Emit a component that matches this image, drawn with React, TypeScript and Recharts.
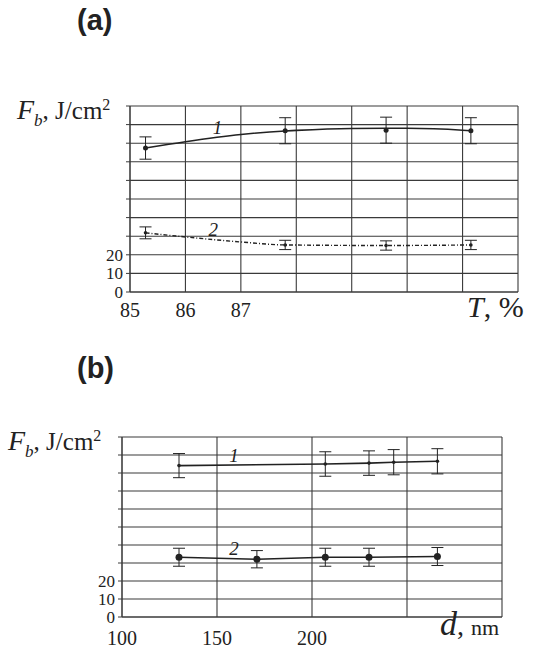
import React from 'react';
import {
  ComposedChart,
  Line,
  Scatter,
  ErrorBar,
  CartesianGrid,
  XAxis,
  YAxis,
  ReferenceDot,
} from 'recharts';

// ---- panel (a): F_b vs transmittance T, %
const aXTicks = [85, 86, 87, 88, 89, 90, 91, 92];
const aXTickLabels = ['85', '86', '87', '', '', '', '', ''];
const aPointT = [85.28, 87.8, 89.62, 91.15];
const aS1 = [77.4, 86.7, 87.0, 86.7];
const aS1Err = [6, 7, 7, 7];
const aS2 = [31.8, 25.3, 25.0, 25.3];
const aS2Err = [3.2, 2.5, 2.5, 2.5];
// fitted curves as drawn
const aCurve1T = [85.28, 86, 87, 87.8, 88, 89, 89.62, 90, 91, 91.15];
const aCurve1 = [77.4, 80.8, 84.7, 86.6, 86.9, 87.9, 88.0, 88.0, 87.0, 86.7];
const aCurve2T = [85.28, 86, 87, 87.8, 89.62, 91.15];
const aCurve2 = [31.8, 29.6, 26.9, 25.3, 25.0, 25.3];

// ---- panel (b): F_b vs thickness d, nm
const bXTicks = [100, 150, 200, 250, 300];
const bXTickLabels = ['100', '150', '200', '', ''];
const bS1D = [130, 207, 230, 243, 266];
const bS1 = [84.1, 85.0, 85.5, 86.0, 86.5];
const bS1Err = [6.7, 6.8, 6.8, 7, 7];
const bS2D = [130, 171, 207, 230, 266];
const bS2 = [33.2, 32.1, 33.2, 33.2, 33.6];
const bS2Err = [5, 4.8, 5, 5, 5];

// shared y axis
const yTicks = [0, 10, 20, 30, 40, 50, 60, 70, 80, 90, 100];
const yTickLabels = ['0', '10', '20', '', '', '', '', '', '', '', ''];

const zip = (xs: number[], ys: number[], errs?: number[]) =>
  xs.map((x, i) => ({ x, y: ys[i], err: errs ? errs[i] : 0 }));

const INK = '#222';
const GRID = '#3a3a3a';
const SERIF = "'Liberation Serif', 'Times New Roman', serif";

const dot = (r: number) => (p: any) =>
  <circle cx={p.cx} cy={p.cy} r={r} fill={INK} />;

const makeTick = (ticks: number[], labels: string[], axis: 'x' | 'y', dy = 15) => (p: any) => {
  const v = p.payload?.value;
  const text = labels[ticks.indexOf(v)] ?? '';
  if (!text) return <g />;
  return axis === 'x' ? (
    <text x={p.x} y={p.y + dy} textAnchor="middle" style={{ fontFamily: SERIF, fontSize: 20 }} fill={INK}>
      {text}
    </text>
  ) : (
    <text x={p.x - 1} y={p.y + 6} textAnchor="end" style={{ fontFamily: SERIF, fontSize: 17 }} fill={INK}>
      {text}
    </text>
  );
};

const curveLabel = (value: string) => ({
  value,
  position: 'center' as const,
  style: { fontFamily: SERIF, fontStyle: 'italic', fontSize: 19, fill: INK },
});

const YTitle = ({ top, left }: { top: number; left: number }) => (
  <div style={{ position: 'absolute', top, left, fontFamily: SERIF, color: INK, whiteSpace: 'nowrap' }}>
    <span style={{ fontStyle: 'italic', fontSize: 28 }}>F</span>
    <span style={{ fontStyle: 'italic', fontSize: 17, position: 'relative', top: 7 }}>b</span>
    <span style={{ fontSize: 25 }}>,&nbsp;J/cm</span>
    <span style={{ fontSize: 16, position: 'relative', top: -9 }}>2</span>
  </div>
);

const PanelLabel = ({ top, text }: { top: number; text: string }) => (
  <div
    style={{
      position: 'absolute',
      top,
      left: 77,
      fontFamily: 'Liberation Sans, Arial, sans-serif',
      fontWeight: 'bold',
      fontSize: 29,
      color: INK,
    }}
  >
    {text}
  </div>
);

export default function App() {
  const a1 = zip(aPointT, aS1, aS1Err);
  const a2 = zip(aPointT, aS2, aS2Err);
  const aC1 = zip(aCurve1T, aCurve1);
  const aC2 = zip(aCurve2T, aCurve2);
  const b1 = zip(bS1D, bS1, bS1Err);
  const b2 = zip(bS2D, bS2, bS2Err);

  return (
    <div style={{ position: 'absolute', left: 0, top: 0, width: 533, height: 652, background: '#fff' }}>
      <PanelLabel top={4} text="(a)" />
      <YTitle top={94} left={17} />
      <div style={{ position: 'absolute', top: 0, left: 0 }}>
        <ComposedChart width={533} height={340} margin={{ top: 106, right: 15, bottom: 8, left: 10 }}>
          <CartesianGrid stroke={GRID} strokeWidth={1.1} />
          <XAxis
            type="number"
            dataKey="x"
            domain={[85, 92]}
            ticks={aXTicks}
            interval={0}
            tick={makeTick(aXTicks, aXTickLabels, 'x', 17)}
            tickLine={false}
            height={40}
            axisLine={{ stroke: GRID }}
          />
          <YAxis
            type="number"
            dataKey="y"
            domain={[0, 100]}
            ticks={yTicks}
            interval={0}
            tick={makeTick(yTicks, yTickLabels, 'y')}
            tickSize={4}
            tickLine={{ stroke: GRID }}
            width={120}
            axisLine={{ stroke: GRID }}
          />
          <Line data={aC1} dataKey="y" type="monotone" stroke={INK} strokeWidth={1.6} dot={false} isAnimationActive={false} />
          <Line data={aC2} dataKey="y" type="monotone" stroke={INK} strokeWidth={1.4} strokeDasharray="4 2 1 2" dot={false} isAnimationActive={false} />
          <Scatter data={a1} dataKey="y" shape={dot(2.5)} isAnimationActive={false}>
            <ErrorBar dataKey="err" direction="y" width={6} stroke={INK} strokeWidth={1} />
          </Scatter>
          <Scatter data={a2} dataKey="y" shape={dot(1.8)} isAnimationActive={false}>
            <ErrorBar dataKey="err" direction="y" width={6} stroke={INK} strokeWidth={1} />
          </Scatter>
          <ReferenceDot x={86.58} y={88.7} r={0} fill="none" stroke="none" label={curveLabel('1')} />
          <ReferenceDot x={86.5} y={33.9} r={0} fill="none" stroke="none" label={curveLabel('2')} />
        </ComposedChart>
      </div>
      <div style={{ position: 'absolute', top: 290, left: 467, fontFamily: SERIF, fontSize: 30, color: INK, whiteSpace: 'nowrap' }}>
        <span style={{ fontStyle: 'italic' }}>T</span>, %
      </div>

      <PanelLabel top={352} text="(b)" />
      <YTitle top={425} left={8} />
      <div style={{ position: 'absolute', top: 340, left: 0 }}>
        <ComposedChart width={533} height={312} margin={{ top: 97, right: 31, bottom: 0, left: 10 }}>
          <CartesianGrid stroke={GRID} strokeWidth={1.1} />
          <XAxis
            type="number"
            dataKey="x"
            domain={[100, 300]}
            ticks={bXTicks}
            interval={0}
            tick={makeTick(bXTicks, bXTickLabels, 'x', 20)}
            tickLine={false}
            height={35}
            axisLine={{ stroke: GRID }}
          />
          <YAxis
            type="number"
            dataKey="y"
            domain={[0, 100]}
            ticks={yTicks}
            interval={0}
            tick={makeTick(yTicks, yTickLabels, 'y')}
            tickSize={4}
            tickLine={{ stroke: GRID }}
            width={112}
            axisLine={{ stroke: GRID }}
          />
          <Line data={b1} dataKey="y" type="linear" stroke={INK} strokeWidth={1.6} dot={false} isAnimationActive={false} />
          <Line data={b2} dataKey="y" type="linear" stroke={INK} strokeWidth={1.6} dot={false} isAnimationActive={false} />
          <Scatter data={b1} dataKey="y" shape={dot(1.8)} isAnimationActive={false}>
            <ErrorBar dataKey="err" direction="y" width={6} stroke={INK} strokeWidth={1} />
          </Scatter>
          <Scatter data={b2} dataKey="y" shape={dot(3.5)} isAnimationActive={false}>
            <ErrorBar dataKey="err" direction="y" width={6} stroke={INK} strokeWidth={1} />
          </Scatter>
          <ReferenceDot x={159} y={90} r={0} fill="none" stroke="none" label={curveLabel('1')} />
          <ReferenceDot x={159} y={38.3} r={0} fill="none" stroke="none" label={curveLabel('2')} />
        </ComposedChart>
      </div>
      <div style={{ position: 'absolute', top: 605, left: 440, fontFamily: SERIF, color: INK, whiteSpace: 'nowrap' }}>
        <span style={{ fontStyle: 'italic', fontSize: 34 }}>d</span>
        <span style={{ fontSize: 28 }}>,&nbsp;</span>
        <span style={{ fontSize: 22 }}>nm</span>
      </div>
    </div>
  );
}
